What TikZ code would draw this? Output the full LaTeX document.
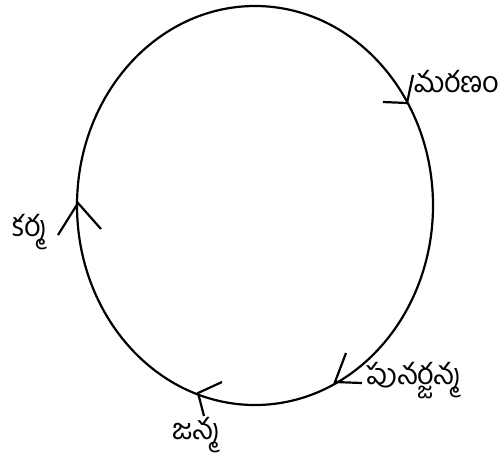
\documentclass[tikz,border=0pt]{standalone}
\usepackage{fontspec}
\newfontfamily\telugu[Script=Telugu]{Hind Guntur}
\begin{document}
\begin{tikzpicture}[x=1pt,y=-1pt,
  cycleline/.style={line width=2.2pt,black},
  barb/.style={line width=2.2pt,black,line cap=butt},
  lbl/.style={font=\telugu\fontsize{29}{32}\selectfont,inner sep=0pt}]
\useasboundingbox (0,0) rectangle (500,456);
\draw[cycleline] (255,205.5) ellipse [x radius=178, y radius=199.5];
% arrow tips on the ellipse
\coordinate (tm) at (407,103);
\coordinate (tk) at (78,203);
\coordinate (tp) at (335,382);
\coordinate (tj) at (198,393);
% arm ends
\coordinate (m1) at (383,102); \coordinate (m2) at (413,75);
\coordinate (k1) at (58,235);  \coordinate (k2) at (101,229);
\coordinate (p1) at (346,353); \coordinate (p2) at (362,383);
\coordinate (j1) at (222,382); \coordinate (j2) at (204,416);
\draw[barb] (m1) -- (tm) -- (m2);
\draw[barb] (k1) -- (tk) -- (k2);
\draw[barb] (p1) -- (tp) -- (p2);
\draw[barb] (j1) -- (tj) -- (j2);
% labels
\node[lbl,anchor=west] (lm) at (414,82) {మరణం};
\node[lbl,anchor=west] (lk) at (12,232) {కర్మ};
\node[lbl,anchor=west] (lp) at (366,381) {పునర్జన్మ};
\node[lbl,anchor=west] (lj) at (172,435) {జన్మ};
\end{tikzpicture}
\end{document}
